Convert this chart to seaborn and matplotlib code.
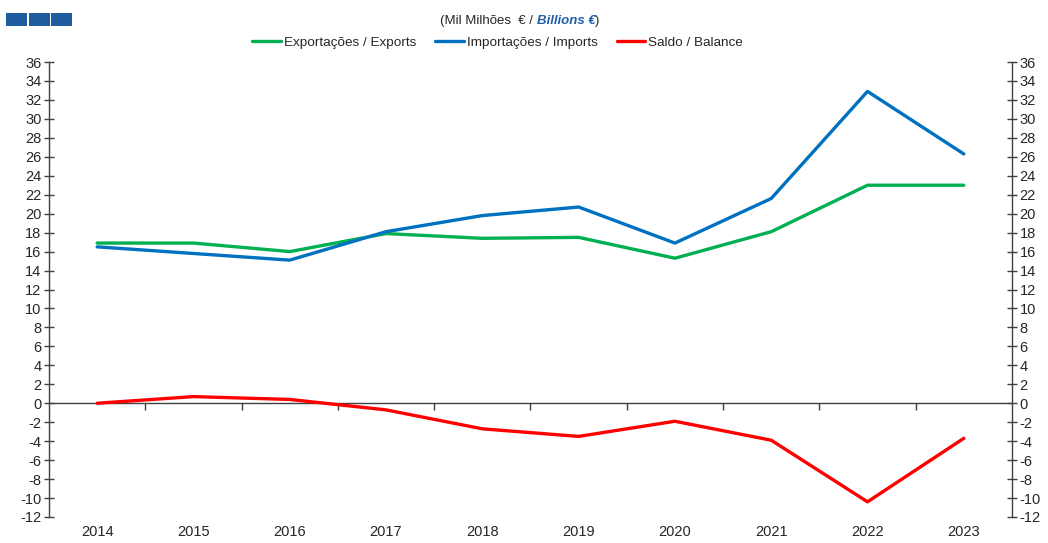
import pandas as pd
import matplotlib
matplotlib.use("Agg")
from matplotlib import pyplot as plt
from matplotlib.patches import Rectangle
import seaborn as sns

years = ["2014", "2015", "2016", "2017", "2018", "2019", "2020", "2021", "2022", "2023"]
exports = [16.9, 16.9, 16.0, 17.9, 17.4, 17.5, 15.3, 18.1, 23.0, 23.0]
imports = [16.5, 15.8, 15.1, 18.1, 19.8, 20.7, 16.9, 21.6, 32.9, 26.3]
balance = [0.0, 0.7, 0.4, -0.7, -2.7, -3.5, -1.9, -3.9, -10.4, -3.7]

series_names = ["Exportações / Exports", "Importações / Imports", "Saldo / Balance"]
series_colors = ["#00B050", "#0070C0", "#FF0000"]

sns.set_style("white")
plt.rcParams['font.family'] = ['Liberation Sans', 'DejaVu Sans']
plt.rcParams['axes.unicode_minus'] = False

df = pd.DataFrame({
    "ano": years * 3,
    "valor": exports + imports + balance,
    "serie": [series_names[0]] * 10 + [series_names[1]] * 10 + [series_names[2]] * 10,
})

fig = plt.figure(figsize=(10.48, 5.43), dpi=100)
ax = fig.add_axes([0.0468, 0.0479, 0.9188, 0.8379])

sns.lineplot(ax=ax, data=df, x="ano", y="valor", hue="serie", hue_order=series_names,
             palette=series_colors, linewidth=2.4, legend=False)

ax.set_xlim(-0.5, 9.5)
ax.set_ylim(-12, 36)
ax.set_yticks(range(-12, 37, 2))
ax.set_xlabel("")
ax.set_ylabel("")

for s in ["top", "bottom"]:
    ax.spines[s].set_visible(False)
for s in ["left", "right"]:
    ax.spines[s].set_color("#404040")
    ax.spines[s].set_linewidth(1.0)

ax.tick_params(axis="y", which="both", direction="inout", length=7, width=1.0,
               color="#404040", labelsize=10.5, labelcolor="#262626",
               left=True, right=True, labelleft=True, labelright=True, pad=2)
ax.tick_params(axis="x", length=0, labelsize=10.5, labelcolor="#262626", pad=6)

# linha do zero com marcas entre categorias
zero_ax = ax.secondary_xaxis(12 / 48)
zero_ax.set_xticks([i + 0.5 for i in range(9)])
zero_ax.set_xticklabels([])
zero_ax.spines["bottom"].set_color("#404040")
zero_ax.spines["bottom"].set_linewidth(1.0)
zero_ax.tick_params(axis="x", direction="out", length=5, width=1.0, color="#404040")
zero_ax.xaxis.set_ticks_position("bottom")

# legenda
handles = [plt.Line2D([], [], color=c, lw=2.4) for c in series_colors]
fig.legend(handles, series_names, loc="center", bbox_to_anchor=(0.475, 0.921), ncol=3,
           frameon=False, fontsize=9.7, handlelength=2.1, columnspacing=1.4,
           handletextpad=0.25, labelcolor="#262626")

# titulo em partes
t1 = fig.text(0.512, 0.962, "(Mil Milhões  € / ", ha="right", va="center",
              fontsize=9.5, color="#262626")
t2 = fig.text(0.512, 0.962, "Billions €", ha="left", va="center", fontsize=9.5,
              color="#1F5FA8", fontweight="bold", fontstyle="italic")
t3 = plt.annotate(")", xy=(1, 0), xycoords=t2, va="bottom", ha="left",
                  fontsize=9.5, color="#262626")

# quadrados do logotipo
for i in range(3):
    fig.patches.append(Rectangle((0.006 + i * 0.0215, 0.952), 0.0198, 0.024,
                                 transform=fig.transFigure, color="#1F5C9E", lw=0))

fig.savefig("out.png", dpi=100)
